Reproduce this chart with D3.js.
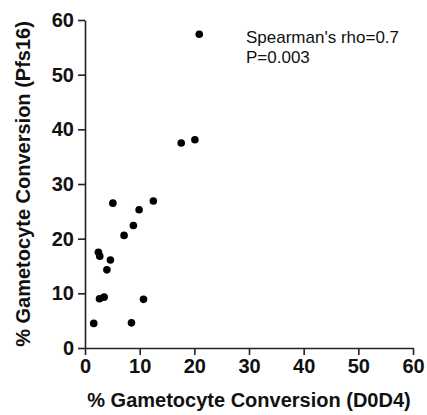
<!DOCTYPE html>
<html>
<head>
    <meta charset="utf-8">
    <style>
        body {
            margin: 0;
            background-color: #FFF;
        }
        text {
            font-family: "Liberation Sans", Arial, sans-serif;
        }
    </style>
</head>
<body>
<div id="chartArea"></div>
<script src="https://d3js.org/d3.v7.min.js"></script>
<script>
    /* -----------------------------------
        data
    ----------------------------------- */
    var d0d4 = [1.6, 8.5, 2.65, 3.5, 10.7, 4.0, 4.65, 2.45, 2.7, 7.15, 8.85, 9.9, 5.1, 12.5, 17.6, 20.1, 20.9];
    var pfs16 = [4.5, 4.6, 9.0, 9.3, 8.9, 14.3, 16.1, 17.5, 16.8, 20.6, 22.4, 25.3, 26.5, 26.9, 37.5, 38.1, 57.4];
    var xTicks = [0, 10, 20, 30, 40, 50, 60];
    var yTicks = [0, 10, 20, 30, 40, 50, 60];
    var statLines = ["Spearman's rho=0.7", "P=0.003"];

    /* -----------------------------------
        initialize
    ----------------------------------- */
    var width = 427, height = 415;
    var margin = {top: 20, right: 14, bottom: 67, left: 85},
        cWidth = width - margin.left - margin.right,
        cHeight = height - margin.top - margin.bottom;

    var svg = d3.select("#chartArea").append("svg")
        .attr("width", width)
        .attr("height", height);

    var container = svg.append("g")
        .attr("transform", "translate(" + margin.left + "," + margin.top + ")");

    var x = d3.scaleLinear().domain([0, 60]).range([0, cWidth]);
    var y = d3.scaleLinear().domain([0, 60]).range([cHeight, 0]);

    /* -----------------------------------
        axes
    ----------------------------------- */
    var xAxis = container.append("g")
        .attr("transform", "translate(0," + cHeight + ")")
        .call(d3.axisBottom(x).tickValues(xTicks).tickSize(7).tickPadding(4).tickSizeOuter(0));

    var yAxis = container.append("g")
        .call(d3.axisLeft(y).tickValues(yTicks).tickSize(7).tickPadding(4).tickSizeOuter(0));

    [xAxis, yAxis].forEach(function(ax) {
        ax.selectAll("path, line").attr("stroke", "#222").attr("stroke-width", 1.6);
        ax.selectAll("text")
            .attr("fill", "#111")
            .style("font-size", "20px")
            .style("font-weight", "bold")
            .style("font-family", "'Liberation Sans', Arial, sans-serif");
    });

    container.append("text")
        .attr("x", cWidth / 2)
        .attr("y", cHeight + 59)
        .attr("text-anchor", "middle")
        .style("font-size", "20px")
        .style("font-weight", "bold")
        .attr("fill", "#111")
        .text("% Gametocyte Conversion (D0D4)");

    container.append("text")
        .attr("transform", "translate(" + (-55) + "," + (cHeight / 2) + ") rotate(-90)")
        .attr("text-anchor", "middle")
        .style("font-size", "20px")
        .style("font-weight", "bold")
        .attr("fill", "#111")
        .text("% Gametocyte Conversion (Pfs16)");

    /* -----------------------------------
        points
    ----------------------------------- */
    container.selectAll(".pt").data(d3.range(d0d4.length))
        .enter()
        .append("circle")
        .attr("class", "pt")
        .attr("cx", function(i) { return x(d0d4[i]); })
        .attr("cy", function(i) { return y(pfs16[i]); })
        .attr("r", 3.8)
        .attr("fill", "#000");

    /* -----------------------------------
        stats label
    ----------------------------------- */
    container.append("text")
        .attr("x", 161)
        .attr("y", 23)
        .style("font-size", "17px")
        .attr("fill", "#111")
        .selectAll("tspan").data(statLines)
        .enter()
        .append("tspan")
        .attr("x", 161)
        .attr("dy", function(d, i) { return i ? 20 : 0; })
        .text(function(d) { return d; });
</script>
</body>
</html>
